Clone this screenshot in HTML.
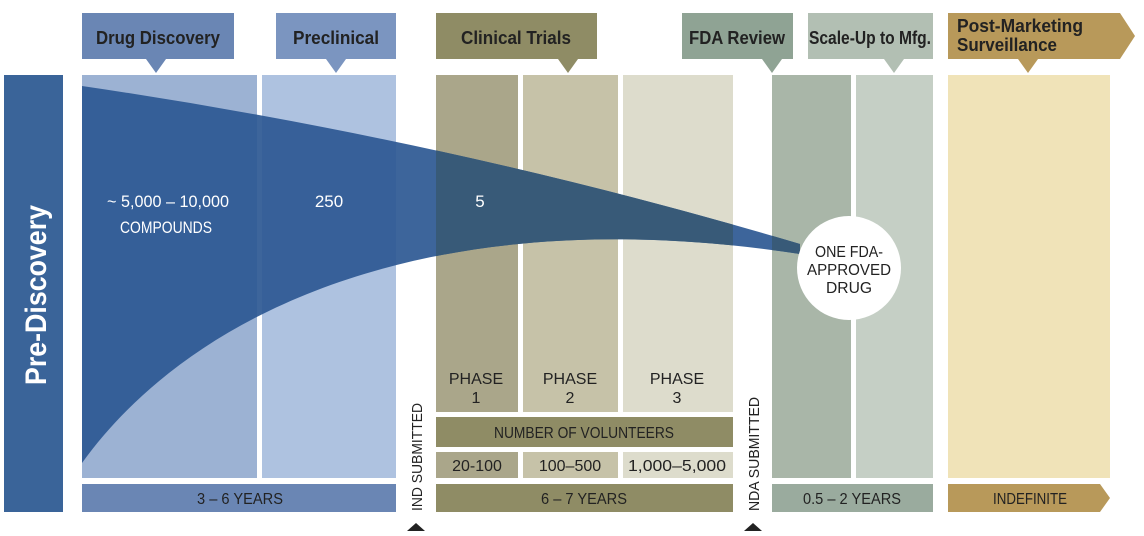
<!DOCTYPE html>
<html><head><meta charset="utf-8"><style>
body{margin:0;width:1144px;height:536px;background:#fff;overflow:hidden}
svg{display:block}
</style></head><body>
<svg width="1144" height="536" viewBox="0 0 1144 536" font-family="Liberation Sans Narrow, Liberation Sans, sans-serif">
<defs>
<clipPath id="cl"><rect x="436" y="75" width="297" height="340"/><rect x="772" y="75" width="40" height="340"/></clipPath>
</defs>
<rect x="4" y="75" width="59" height="437" fill="#3a6499"/>
<text transform="translate(46,295) rotate(-90)" text-anchor="middle" fill="#fff" font-size="30" font-weight="bold" textLength="180" lengthAdjust="spacingAndGlyphs">Pre-Discovery</text>
<rect x="82" y="75" width="175" height="403" fill="#9cb2d3"/>
<rect x="262" y="75" width="134" height="403" fill="#aec2e0"/>
<rect x="436" y="75" width="82" height="337" fill="#aaa68a"/>
<rect x="523" y="75" width="95" height="337" fill="#c6c2a8"/>
<rect x="623" y="75" width="110" height="337" fill="#dddccc"/>
<rect x="772" y="75" width="79" height="403" fill="#a9b6a8"/>
<rect x="856" y="75" width="77" height="403" fill="#c5cfc5"/>
<rect x="948" y="75" width="162" height="403" fill="#f0e3b8"/>
<path d="M82,86 Q450,140 800,244 L800,254 C450,200 200,300 82,463 Z" fill="#2d5892" opacity="0.92"/>
<path d="M82,86 Q450,140 800,244 L800,254 C450,200 200,300 82,463 Z" fill="#385a78" clip-path="url(#cl)"/>
<circle cx="849" cy="268" r="52" fill="#fff"/>
<g font-weight="bold" font-size="18" fill="#222">
<rect x="82" y="13" width="152" height="46" fill="#6a86b4"/><path d="M146,59 L156,73 L166,59Z" fill="#6a86b4"/>
<text x="158" y="44" text-anchor="middle" textLength="124" lengthAdjust="spacingAndGlyphs">Drug Discovery</text>
<rect x="276" y="13" width="120" height="46" fill="#7b95c0"/><path d="M326,59 L336,73 L346,59Z" fill="#7b95c0"/>
<text x="336" y="44" text-anchor="middle" textLength="86" lengthAdjust="spacingAndGlyphs">Preclinical</text>
<rect x="436" y="13" width="161" height="46" fill="#8f8c65"/><path d="M558,59 L568,73 L578,59Z" fill="#8f8c65"/>
<text x="516" y="44" text-anchor="middle" textLength="110" lengthAdjust="spacingAndGlyphs">Clinical Trials</text>
<rect x="682" y="13" width="111" height="46" fill="#8fa394"/><path d="M762,59 L772,73 L782,59Z" fill="#8fa394"/>
<text x="737" y="44" text-anchor="middle" textLength="96" lengthAdjust="spacingAndGlyphs">FDA Review</text>
<rect x="808" y="13" width="125" height="46" fill="#b2bfb3"/><path d="M884,59 L894,73 L904,59Z" fill="#b2bfb3"/>
<text x="870" y="44" text-anchor="middle" textLength="122" lengthAdjust="spacingAndGlyphs">Scale-Up to Mfg.</text>
<path d="M948,13 L1120,13 L1135,36 L1120,59 L948,59Z" fill="#b8995a"/><path d="M1018,59 L1028,73 L1038,59Z" fill="#b8995a"/>
<text x="957" y="32" textLength="126" lengthAdjust="spacingAndGlyphs">Post-Marketing</text>
<text x="957" y="51" textLength="100" lengthAdjust="spacingAndGlyphs">Surveillance</text>
</g>
<g fill="#fff" font-size="17" text-anchor="middle">
<text x="168" y="207" textLength="122" lengthAdjust="spacingAndGlyphs">~ 5,000 – 10,000</text>
<text x="166" y="233" textLength="92" lengthAdjust="spacingAndGlyphs">COMPOUNDS</text>
<text x="329" y="207">250</text>
<text x="480" y="207">5</text>
</g>
<g fill="#222" font-size="16" text-anchor="middle">
<text x="849" y="257" textLength="68" lengthAdjust="spacingAndGlyphs">ONE FDA-</text>
<text x="849" y="275" textLength="84" lengthAdjust="spacingAndGlyphs">APPROVED</text>
<text x="849" y="293" textLength="46" lengthAdjust="spacingAndGlyphs">DRUG</text>
<text x="476" y="384">PHASE</text><text x="476" y="403">1</text>
<text x="570" y="384">PHASE</text><text x="570" y="403">2</text>
<text x="677" y="384">PHASE</text><text x="677" y="403">3</text>
</g>
<rect x="436" y="417" width="297" height="30" fill="#8f8c65"/>
<text x="584" y="438" text-anchor="middle" font-size="16" fill="#222" textLength="180" lengthAdjust="spacingAndGlyphs">NUMBER OF VOLUNTEERS</text>
<rect x="436" y="452" width="82" height="26" fill="#aaa68a"/>
<rect x="523" y="452" width="95" height="26" fill="#c6c2a8"/>
<rect x="623" y="452" width="110" height="26" fill="#dddccc"/>
<g font-size="16" fill="#222" text-anchor="middle">
<text x="477" y="471">20-100</text><text x="570" y="471">100–500</text><text x="677" y="471" textLength="98" lengthAdjust="spacingAndGlyphs">1,000–5,000</text>
</g>
<rect x="82" y="484" width="314" height="28" fill="#6a86b4"/>
<rect x="436" y="484" width="297" height="28" fill="#8f8c65"/>
<rect x="772" y="484" width="161" height="28" fill="#9aab9e"/>
<path d="M948,484 L1100,484 L1110,498 L1100,512 L948,512Z" fill="#b8995a"/>
<g font-size="16" fill="#222" text-anchor="middle">
<text x="240" y="504" textLength="86" lengthAdjust="spacingAndGlyphs">3 – 6 YEARS</text>
<text x="584" y="504" textLength="86" lengthAdjust="spacingAndGlyphs">6 – 7 YEARS</text>
<text x="852" y="504" textLength="98" lengthAdjust="spacingAndGlyphs">0.5 – 2 YEARS</text>
<text x="1030" y="504" textLength="74" lengthAdjust="spacingAndGlyphs">INDEFINITE</text>
</g>
<g font-size="15" fill="#222">
<text transform="translate(422,511) rotate(-90)" textLength="108" lengthAdjust="spacingAndGlyphs">IND SUBMITTED</text>
<text transform="translate(759,511) rotate(-90)" textLength="114" lengthAdjust="spacingAndGlyphs">NDA SUBMITTED</text>
</g>
<path d="M407,531 L416,523 L425,531Z" fill="#222"/>
<path d="M744,531 L753,523 L762,531Z" fill="#222"/>
</svg>
</body></html>
